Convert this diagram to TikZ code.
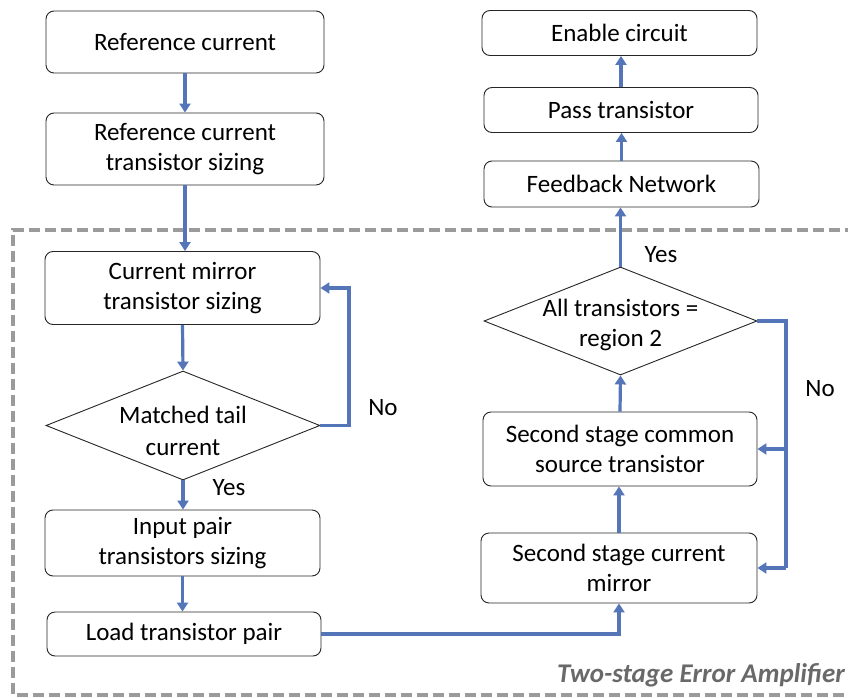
\documentclass[tikz,border=0pt]{standalone}
\usepackage{fontspec}
\setmainfont{Carlito}
\usetikzlibrary{shapes.geometric,arrows.meta}
\definecolor{flowblue}{RGB}{84,118,184}
\definecolor{frame}{RGB}{155,155,155}
\definecolor{caption}{RGB}{105,105,105}
\tikzset{
  x=1pt,y=-1pt,
  stepbox/.style={draw=black!85,line width=0.9pt,rounded corners=8pt,fill=white,
    align=center,font=\fontsize{25}{30.5}\selectfont,inner sep=2pt},
  decision/.style={draw=black!85,line width=0.9pt,diamond,aspect=2.5,fill=white,
    align=center,font=\fontsize{25}{31.5}\selectfont,inner sep=0pt},
  flow/.style={draw=flowblue,line width=3.2pt,-{Triangle[length=9pt,width=11pt]}},
  flowline/.style={draw=flowblue,line width=3.2pt},
  lbl/.style={font=\fontsize{25}{30}\selectfont},
}
\begin{document}
\begin{tikzpicture}
\useasboundingbox (0,0) rectangle (848,698);
\fill[white] (0,0) rectangle (848,698);

% enclosure of the error amplifier stage
\draw[frame,line width=3.2pt,dash pattern=on 11pt off 5pt] (856,230) -- (13,230) -- (13,695) -- (856,695);
\node[anchor=east,font=\fontsize{27}{30}\selectfont\bfseries\itshape,text=caption,inner sep=0pt] (amp) at (845,675) {Two-stage Error Amplifier};

% left column
\node[stepbox,minimum width=278pt,minimum height=62pt] (ref) at (185,42) {Reference current};
\node[stepbox,minimum width=278pt,minimum height=72pt] (refsz) at (185,149) {Reference current\\transistor sizing};
\node[stepbox,minimum width=275pt,minimum height=73pt] (cm) at (182.5,288) {Current mirror\\transistor sizing};
\node[decision,minimum width=274pt,minimum height=109pt] (tail) at (183,425.5) {};
\node[align=center,font=\fontsize{25}{31.5}\selectfont,inner sep=0pt] (tailtxt) at (183,431) {Matched tail\\current};
\node[stepbox,minimum width=275pt,minimum height=66pt] (inp) at (182.5,543) {Input pair\\transistors sizing};
\node[stepbox,minimum width=274pt,minimum height=44pt] (load) at (184,634) {Load transistor pair};

% right column
\node[stepbox,minimum width=275pt,minimum height=45pt] (en) at (619.5,33) {Enable circuit};
\node[stepbox,minimum width=274pt,minimum height=45pt] (pass) at (621,110) {Pass transistor};
\node[stepbox,minimum width=275pt,minimum height=46pt] (fb) at (621.5,184) {Feedback Network};
\node[decision,minimum width=273pt,minimum height=108pt] (reg) at (620.5,321) {};
\node[align=center,font=\fontsize{25}{30.5}\selectfont,inner sep=0pt] (regtxt) at (620.5,325) {All transistors =\\region 2};
\node[stepbox,minimum width=274pt,minimum height=74pt] (cs) at (620,449) {Second stage common\\source transistor};
\node[stepbox,minimum width=276pt,minimum height=70pt] (mir) at (619,568) {Second stage current\\mirror};

% connectors
\draw[flow] (ref) -- (refsz);
\draw[flow] (refsz) -- (refsz|-cm.north);
\draw[flow] (cm.south) -- (tail.north);
\draw[flow] (tail.south) -- (tail.south|-inp.north);
\draw[flow] (inp.south) -- (inp.south|-load.north);
\coordinate (nol) at (349,425.5);
\draw[flow] (tail.east) -- (nol) |- (cm.east);
\node[lbl] (no1) at (383,408) {No};
\node[lbl] (yes1) at (229,488) {Yes};

\draw[flow] (load.east) -| (mir.south);
\draw[flow] (mir.north) -- (mir.north|-cs.south);
\draw[flow] (cs.north) -- (reg.south);
\draw[flow] (reg.north) -- (reg.north|-fb.south);
\draw[flow] (fb.north) -- (fb.north|-pass.south);
\draw[flow] (pass.north) -- (pass.north|-en.south);
\node[lbl] (yes2) at (661,255) {Yes};

\coordinate (nor) at (786,321);
\draw[flowline] (reg.east) -- (nor) -- (786,568);
\draw[flow] (786,568) -- (mir.east);
\draw[flow] (786,449) -- (cs.east);
\node[lbl] (no2) at (820,389) {No};
\end{tikzpicture}
\end{document}
